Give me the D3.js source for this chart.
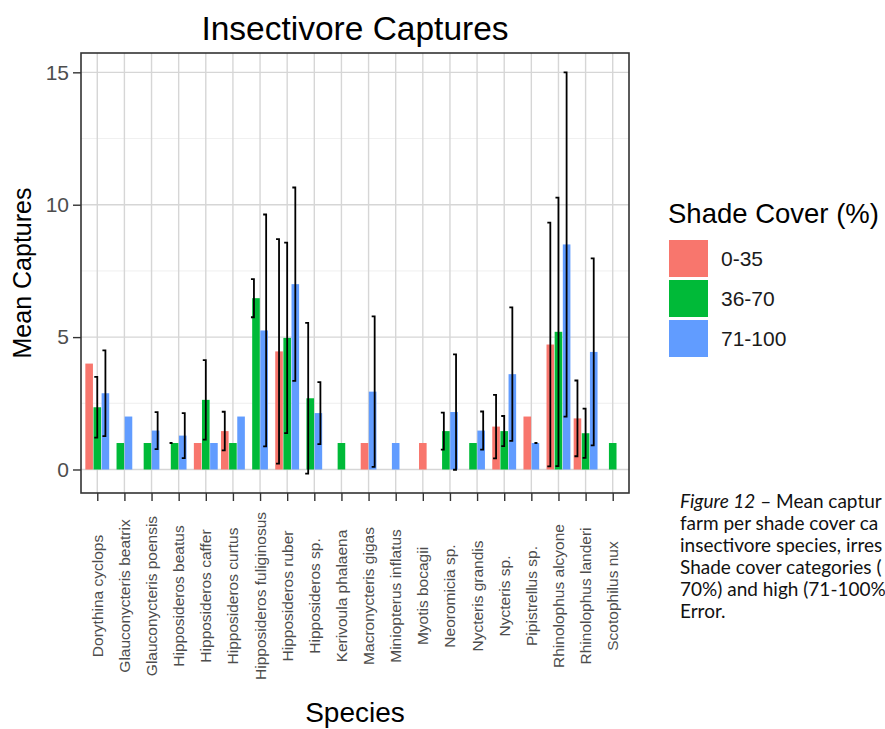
<!DOCTYPE html>
<html><head><meta charset="utf-8">
<script src="https://cdn.jsdelivr.net/npm/d3@7"></script>
<style>
html,body{margin:0;padding:0;background:#fff;overflow:hidden}
svg{display:block}
</style></head>
<body>
<script>
const species = ["Dorythina cyclops","Glauconycteris beatrix","Glauconycteris poensis","Hipposideros beatus","Hipposideros caffer","Hipposideros curtus","Hipposideros fuliginosus","Hipposideros ruber","Hipposideros sp.","Kerivoula phalaena","Macronycteris gigas","Miniopterus inflatus","Myotis bocagii","Neoromicia sp.","Nycteris grandis","Nycteris sp.","Pipistrellus sp.","Rhinolophus alcyone","Rhinolophus landeri","Scotophilus nux"];
const shadeGroups = ["0-35","36-70","71-100"];
const groupColors = ["#F8766D","#00BA38","#619CFF"];
const mean0_35  = [4.0, null, null, null, 1.0, 1.45, null, 4.46, null, null, 1.0, null, 1.0, null, null, 1.62, 2.0, 4.72, 1.93, null];
const se0_35    = [null, null, null, null, null, 0.73, null, 4.24, null, null, null, null, null, null, null, 1.2, null, 4.6, 1.43, null];
const mean36_70 = [2.35, 1.0, 1.0, 1.0, 2.63, 1.0, 6.47, 4.97, 2.69, 1.0, null, null, null, 1.45, 1.0, 1.45, null, 5.2, 1.37, 1.0];
const se36_70   = [1.15, null, null, 0, 1.5, null, 0.72, 3.6, 2.85, null, null, null, null, 0.7, null, 0.57, null, 5.07, 0.93, null];
const mean71_100= [2.88, 2.0, 1.47, 1.28, 1.0, 2.0, 5.25, 7.0, 2.13, null, 2.94, 1.0, null, 2.17, 1.47, 3.6, 1.0, 8.5, 4.44, null];
const se71_100  = [1.62, null, 0.7, 0.85, null, null, 4.38, 3.65, 1.17, null, 2.84, null, null, 2.18, 0.72, 2.52, 0, 6.5, 3.53, null];
const yTicks = [0, 5, 10, 15];
const yMinor = [2.5, 7.5, 12.5];
const captionLines = [
  [["Figure 12", true], [" – Mean captur", false]],
  [["farm per shade cover ca", false]],
  [["insectivore species, irres", false]],
  [["Shade cover categories (", false]],
  [["70%) and high (71-100%", false]],
  [["Error.", false]]
];

const means = [mean0_35, mean36_70, mean71_100];
const ses = [se0_35, se36_70, se71_100];

const W = 885, H = 729;
const P = {left: 81, right: 629, top: 53, bottom: 493};
const svg = d3.select("body").append("svg").attr("width", W).attr("height", H)
  .style("font-family", "'Liberation Sans', Arial, sans-serif");

const x = d3.scalePoint().domain(species).range([P.left, P.right]).padding(0.6);
const y = d3.scaleLinear().domain([-0.888, 15.73]).range([P.bottom, P.top]);
const step = x.step();

// grid
const g = svg.append("g");
g.selectAll(".minor").data(yMinor).enter().append("line")
  .attr("x1", P.left).attr("x2", P.right).attr("y1", d => y(d)).attr("y2", d => y(d))
  .attr("stroke", "#ebebeb").attr("stroke-width", 0.8);
g.selectAll(".major").data(yTicks).enter().append("line")
  .attr("x1", P.left).attr("x2", P.right).attr("y1", d => y(d)).attr("y2", d => y(d))
  .attr("stroke", "#d6d6d6").attr("stroke-width", 1.4);
g.selectAll(".vmajor").data(species).enter().append("line")
  .attr("x1", d => x(d)).attr("x2", d => x(d)).attr("y1", P.top).attr("y2", P.bottom)
  .attr("stroke", "#d6d6d6").attr("stroke-width", 1.4);

// build records
const records = [];
species.forEach((sp, si) => {
  const present = [0,1,2].filter(k => means[k][si] != null);
  const n = present.length;
  present.forEach((k, i) => {
    records.push({sp, k, mean: means[k][si], se: ses[k][si],
      barOff: (i - (n - 1) / 2) * 0.3 * step,
      errOff: (i - (n - 1) / 2) * (0.9 / n) * step});
  });
});

const bw = 0.28 * step;
svg.append("g").selectAll("rect").data(records).enter().append("rect")
  .attr("x", d => x(d.sp) + d.barOff - bw / 2)
  .attr("width", bw)
  .attr("y", d => y(d.mean))
  .attr("height", d => y(0) - y(d.mean))
  .attr("fill", d => groupColors[d.k]);

const eb = svg.append("g").attr("stroke", "#000").attr("stroke-width", 1.8).attr("fill", "none");
records.filter(d => d.se != null).forEach(d => {
  const cx = x(d.sp) + d.errOff;
  const y1 = y(d.mean + d.se), y2 = y(d.mean - d.se);
  eb.append("path").attr("d", `M${cx-3},${y1}H${cx}V${y2}H${cx-3}`);
});

// panel border
svg.append("rect").attr("x", P.left).attr("y", P.top)
  .attr("width", P.right - P.left).attr("height", P.bottom - P.top)
  .attr("fill", "none").attr("stroke", "#333").attr("stroke-width", 1.6);

// y axis
const yAxis = d3.axisLeft(y).tickValues(yTicks).tickSize(8).tickPadding(4).tickFormat(d3.format("d"));
const ya = svg.append("g").attr("transform", `translate(${P.left},0)`).call(yAxis);
ya.select(".domain").remove();
ya.selectAll(".tick line").attr("stroke", "#333").attr("stroke-width", 1.4);
ya.selectAll(".tick text").attr("fill", "#4d4d4d").style("font-size", "21px")
  .style("font-family", "'Liberation Sans', Arial, sans-serif");

// x axis
const xAxis = d3.axisBottom(x).tickSize(8).tickFormat("");
const xa = svg.append("g").attr("transform", `translate(0,${P.bottom})`).call(xAxis);
xa.select(".domain").remove();
xa.selectAll(".tick line").attr("stroke", "#333").attr("stroke-width", 1.4);
svg.append("g").selectAll("text").data(species).enter().append("text")
  .attr("transform", d => `translate(${x(d) + 5.5},596) rotate(-90)`)
  .attr("text-anchor", "middle")
  .attr("fill", "#4d4d4d").style("font-size", "15.5px")
  .text(d => d);

// titles
svg.append("text").attr("x", (P.left + P.right) / 2).attr("y", 40)
  .attr("text-anchor", "middle").style("font-size", "33.5px").attr("fill", "#000")
  .text("Insectivore Captures");
svg.append("text").attr("x", (P.left + P.right) / 2).attr("y", 722)
  .attr("text-anchor", "middle").style("font-size", "28px").attr("fill", "#000")
  .text("Species");
svg.append("text").attr("transform", `translate(31,${(P.top + P.bottom) / 2}) rotate(-90)`)
  .attr("text-anchor", "middle").style("font-size", "25px").attr("fill", "#000")
  .text("Mean Captures");

// legend
const lg = svg.append("g");
lg.append("text").attr("x", 668).attr("y", 223).style("font-size", "27.5px").attr("fill", "#000")
  .text("Shade Cover (%)");
shadeGroups.forEach((s, i) => {
  const ky = 240 + i * 40;
  lg.append("rect").attr("x", 669).attr("y", ky).attr("width", 39).attr("height", 37)
    .attr("fill", groupColors[i]);
  lg.append("text").attr("x", 721).attr("y", ky + 18.5).attr("dy", "0.36em")
    .style("font-size", "21px").attr("fill", "#1a1a1a").text(s);
});

// caption
const cap = svg.append("g").style("font-family", "Lato, 'Open Sans', sans-serif").style("font-size", "19px");
captionLines.forEach((parts, i) => {
  const t = cap.append("text").attr("x", 680).attr("y", 508 + i * 22).attr("fill", "#111");
  parts.forEach(([s, it]) => t.append("tspan").style("font-style", it ? "italic" : "normal").text(s));
});
</script>
</body></html>
